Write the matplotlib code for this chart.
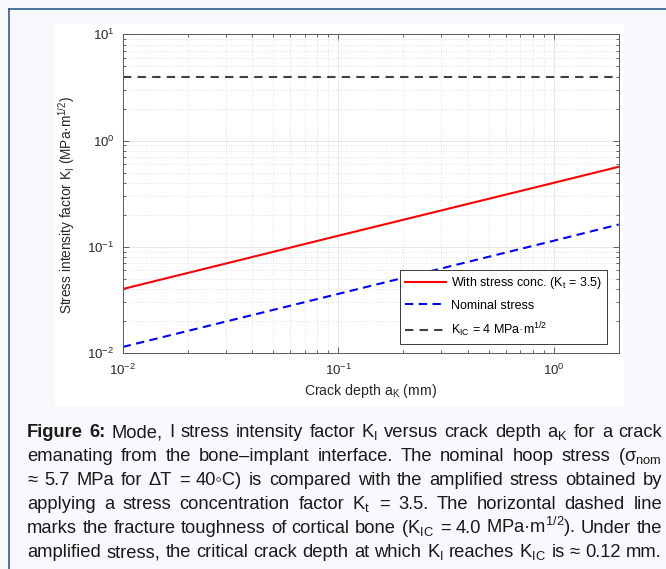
import matplotlib
matplotlib.use('Agg')
import matplotlib.pyplot as plt
from matplotlib import font_manager
from matplotlib.patches import Rectangle
from matplotlib.lines import Line2D

# data
a_mm = [0.01, 0.1, 1.0, 2.0]
K_conc = [0.040, 0.127, 0.40, 0.566]
K_nom = [0.0114, 0.036, 0.114, 0.162]
K_IC = 4.0
x_lim = [0.01, 2.0]
y_lim = [0.01, 10.0]

caption_lines = [
    r"Figure 6: Mode, I stress intensity factor K$_\mathregular{I}$ versus crack depth a$_\mathregular{K}$ for a crack",
    r"emanating from the bone–implant interface. The nominal hoop stress (σ$_\mathregular{nom}$",
    r"≈ 5.7 MPa for ΔT = 40◦C) is compared with the amplified stress obtained by",
    r"applying a stress concentration factor K$_\mathregular{t}$ = 3.5. The horizontal dashed line",
    r"marks the fracture toughness of cortical bone (K$_\mathregular{IC}$ = 4.0 MPa·m$^\mathregular{1/2}$). Under the",
    r"amplified stress, the critical crack depth at which K$_\mathregular{I}$ reaches K$_\mathregular{IC}$ is ≈ 0.12 mm.",
]

# fonts
names = {f.name for f in font_manager.fontManager.ttflist}
cap_font = 'Liberation Sans Narrow' if 'Liberation Sans Narrow' in names else 'Liberation Sans'
plt.rcParams['font.family'] = ['Liberation Sans', 'DejaVu Sans']
plt.rcParams['mathtext.fontset'] = 'custom'
plt.rcParams['mathtext.rm'] = 'Liberation Sans'
plt.rcParams['mathtext.it'] = 'Liberation Sans:italic'
plt.rcParams['mathtext.bf'] = 'Liberation Sans:bold'
plt.rcParams['axes.unicode_minus'] = False

W, H = 666, 569
fig = plt.figure(figsize=(W / 100, H / 100), dpi=100, facecolor='#f7f9fc')

# page frame and white figure panel
fig.add_artist(Rectangle((55 / W, 1 - 406 / H), (624 - 55) / W, (406 - 24) / H,
                         transform=fig.transFigure, facecolor='white', edgecolor='none', zorder=0))
frame = '#2e5c8a'
fig.add_artist(Line2D([9 / W, 1], [1 - 8.5 / H, 1 - 8.5 / H], transform=fig.transFigure, color=frame, lw=1.2))
fig.add_artist(Line2D([9 / W, 9 / W], [0, 1 - 8.5 / H], transform=fig.transFigure, color=frame, lw=1.2))

ax = fig.add_axes([122.7 / W, 1 - 353 / H, 496 / W, 318.7 / H])
ax.set_xscale('log')
ax.set_yscale('log')

ax.plot(a_mm, K_conc, color='#ff0000', lw=1.5, label=r'With stress conc. (K$_\mathregular{t}$ = 3.5)')
ax.plot(a_mm, K_nom, color='#0000ff', lw=1.5, dashes=(4, 2.6), label='Nominal stress')
ax.plot(x_lim, [K_IC, K_IC], color='#404040', lw=1.5, dashes=(4, 3),
        label=r'K$_\mathregular{IC}$ = 4 MPa·m$^\mathregular{1/2}$')

ax.set_xlim(x_lim)
ax.set_ylim(y_lim)

ax.grid(True, which='major', color='#e3e3e3', lw=0.6, ls='-')
ax.grid(True, which='minor', color='#d6d6d6', lw=0.6, ls=(0, (1, 2)))
ax.set_axisbelow(True)

ax.tick_params(which='both', direction='in', top=True, right=True, colors='#4d4d4d',
               labelcolor='#262626', labelsize=9.5)
ax.tick_params(which='major', length=4, width=0.6)
ax.tick_params(which='minor', length=2.5, width=0.6)
ax.tick_params(axis='x', which='major', pad=7)
ax.tick_params(axis='y', which='major', pad=6)
for s in ax.spines.values():
    s.set_color('#5a5a5a')
    s.set_linewidth(0.7)

ax.set_xlabel(r'Crack depth a$_\mathregular{K}$ (mm)', fontsize=10.2, color='#262626', labelpad=3)
ax.set_ylabel(r'Stress intensity factor K$_\mathregular{I}$ (MPa·m$^\mathregular{1/2}$)',
              fontsize=9.8, color='#262626')
ax.yaxis.set_label_coords(-0.092, 0.465)

leg = ax.legend(loc='lower right', bbox_to_anchor=(0.976, 0.028), borderaxespad=0, fontsize=9.0,
                fancybox=False, framealpha=1, edgecolor='#3a3a3a', handlelength=3.3,
                borderpad=0.4, labelspacing=0.7, handletextpad=0.35)
leg.get_frame().set_linewidth(0.7)

# justified caption, word by word
fs = 13.2
fig.canvas.draw()
r = fig.canvas.get_renderer()
x0, x1 = 27, 662
for i, line in enumerate(caption_lines):
    y = 1 - (437 + 24 * i) / H
    words = line.split(' ')
    texts = []
    for j, w in enumerate(words):
        bold = i == 0 and j < 2
        t = fig.text(0, y, w, fontsize=fs, va='baseline', color='#1a1a1a',
                     family=[cap_font, 'Liberation Sans', 'DejaVu Sans'],
                     fontweight='bold' if bold else 'normal')
        texts.append(t)
    widths = [t.get_window_extent(r).width for t in texts]
    gap = (x1 - x0 - sum(widths)) / (len(words) - 1)
    x = x0
    for t, w in zip(texts, widths):
        t.set_x(x / W)
        x += w + gap

fig.savefig('out.png', dpi=100, facecolor=fig.get_facecolor())
